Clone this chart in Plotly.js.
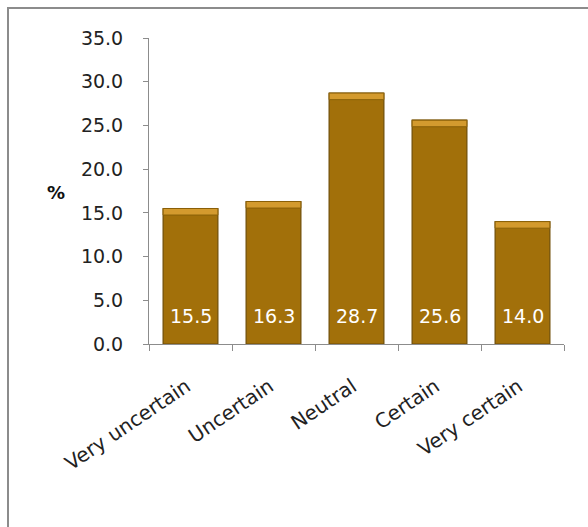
<!DOCTYPE html>
<html>
<head>
<meta charset="utf-8">
<script src="https://cdn.plot.ly/plotly-3.0.1.min.js"></script>
<style>
  html, body { margin: 0; padding: 0; background: #fff; }
  #chart { position: absolute; left: 0; top: 0; width: 588px; height: 527px; }
  #frame { position: absolute; left: 7px; top: 7px; width: 620px; height: 560px;
           border: 2px solid #8c8c8c; pointer-events: none; }
</style>
</head>
<body>
<div id="chart"></div>
<div id="frame"></div>
<script>
// Share of respondents by certainty level
const categories = ["Very uncertain", "Uncertain", "Neutral", "Certain", "Very certain"];
const percentages = [15.5, 16.3, 28.7, 25.6, 14.0];
const yTicks = [0, 5, 10, 15, 20, 25, 30, 35];

const font = "'DejaVu Sans', sans-serif";
const bevel = 0.75; // height of the lighter top facet, in axis units
const barWidth = 0.66;

const bars = {
  type: "bar",
  x: categories,
  y: percentages,
  width: barWidth,
  marker: { color: "#A2700A", line: { color: "#6E4C06", width: 1.2 } },
  hoverinfo: "x+y"
};

// lighter top facet of each bar
const tops = {
  type: "bar",
  x: categories,
  y: percentages.map(() => bevel),
  base: percentages.map(v => v - bevel),
  width: barWidth,
  marker: { color: "#D39A2E", line: { color: "#8A6008", width: 1 } },
  hoverinfo: "skip"
};

const valueLabels = categories.map((c, i) => ({
  x: c, y: 0, xref: "x", yref: "y",
  text: percentages[i].toFixed(1),
  showarrow: false, yanchor: "bottom", yshift: 15,
  font: { family: font, size: 19, color: "#ffffff" }
}));

const layout = {
  width: 588, height: 527,
  margin: { l: 149, r: 24, t: 38, b: 183 },
  paper_bgcolor: "#ffffff",
  plot_bgcolor: "#ffffff",
  showlegend: false,
  barmode: "overlay",
  xaxis: {
    type: "category",
    tickangle: -34,
    tickson: "boundaries",
    ticks: "outside", ticklen: 6, tickcolor: "#8c8c8c",
    ticklabelstandoff: 22,
    ticklabelshift: -4,
    showline: true, linecolor: "#8c8c8c", linewidth: 1,
    showgrid: false,
    tickfont: { family: font, size: 20, color: "#222" }
  },
  yaxis: {
    range: [0, 35],
    tickvals: yTicks,
    ticktext: yTicks.map(v => v.toFixed(1)),
    ticks: "outside", ticklen: 5, tickcolor: "#8c8c8c",
    ticklabelstandoff: 16,
    showline: true, linecolor: "#8c8c8c", linewidth: 1,
    showgrid: false, zeroline: false,
    tickfont: { family: font, size: 19, color: "#222" }
  },
  annotations: valueLabels.concat([{
    text: "<b>%</b>", xref: "paper", yref: "paper",
    x: -0.225, y: 0.496, xanchor: "center", yanchor: "middle",
    showarrow: false, font: { family: font, size: 18, color: "#111" }
  }])
};

Plotly.newPlot("chart", [bars, tops], layout, { displayModeBar: false, staticPlot: true });
</script>
</body>
</html>
